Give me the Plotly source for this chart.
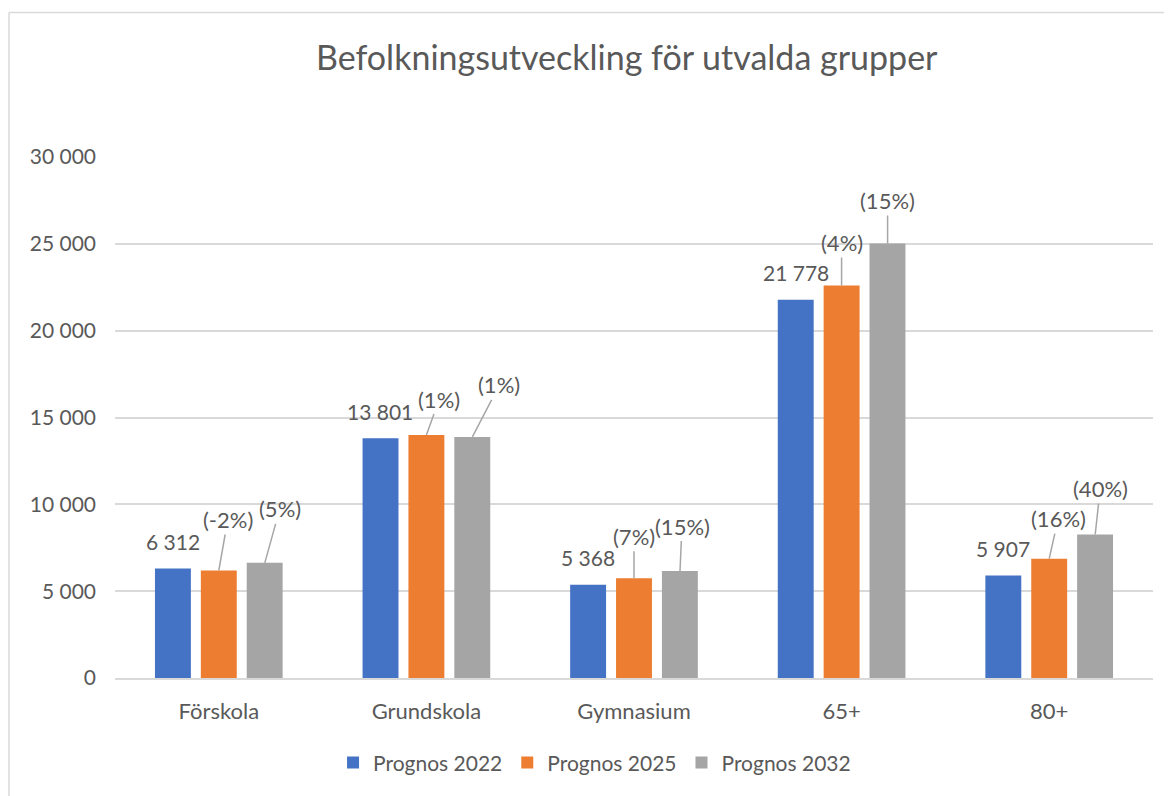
import plotly.graph_objects as go

# Data
kategorier = ['Förskola', 'Grundskola', 'Gymnasium', '65+', '80+']
serier = ['Prognos 2022', 'Prognos 2025', 'Prognos 2032']
prognos_2022 = [6312, 13801, 5368, 21778, 5907]
prognos_2025 = [6190, 13990, 5740, 22600, 6870]
prognos_2032 = [6630, 13880, 6160, 25020, 8265]
procent_2025 = ['(-2%)', '(1%)', '(7%)', '(4%)', '(16%)']
procent_2032 = ['(5%)', '(1%)', '(15%)', '(15%)', '(40%)']

farger = ['#4472C4', '#ED7D31', '#A5A5A5']
textfarg = '#595959'
font = 'Lato'

# Placering av etiketterna (pixlar fran stapelns topp), som i originalet
offset_2025 = [(9, -51), (13, -36), (0, -42), (0, -43), (9, -40)]
offset_2032 = [(15, -54), (27, -52), (2, -45), (0, -43), (5, -46)]
slot = 46  # avstand mellan staplarnas mittpunkter i en grupp

fig = go.Figure()
for namn, varden, farg in zip(serier, [prognos_2022, prognos_2025, prognos_2032], farger):
    fig.add_trace(go.Bar(x=kategorier, y=varden, name=namn, marker_color=farg,
                         marker_line_width=0, hoverinfo='x+y'))

annotations = []
# Värden för 2022
for kat, v in zip(kategorier, prognos_2022):
    annotations.append(dict(x=kat, y=v, xref='x', yref='y', text=f'{v:,}'.replace(',', ' '),
                            showarrow=False, xshift=-slot, yshift=27,
                            font=dict(family=font, size=21, color=textfarg)))
# Procentuell förändring med hänvisningslinjer
for procent, varden, offsets, dx in [(procent_2025, prognos_2025, offset_2025, 0),
                                      (procent_2032, prognos_2032, offset_2032, slot)]:
    for kat, v, txt, (ax, ay) in zip(kategorier, varden, procent, offsets):
        annotations.append(dict(x=kat, y=v, xref='x', yref='y', text=txt,
                                showarrow=True, arrowhead=0, arrowwidth=1.5,
                                arrowcolor='#A6A6A6', ax=ax, ay=ay, xshift=dx,
                                font=dict(family=font, size=22, color=textfarg)))

# sidan har 8 px marginal i body, darfor 1164x788
fig.update_layout(
    width=1164, height=788,
    margin=dict(l=107, r=19, t=149, b=116),
    paper_bgcolor='white', plot_bgcolor='white',
    separators=', ',
    title=dict(text='Befolkningsutveckling för utvalda grupper', xref='paper', x=0.493,
               xanchor='center', y=0.937, yanchor='middle',
               font=dict(family=font, size=34, color=textfarg)),
    barmode='group', bargap=0.337, bargroupgap=0.217,
    font=dict(family=font, size=21, color=textfarg),
    xaxis=dict(showgrid=False, showline=True, linecolor='#D9D9D9', linewidth=1.5,
               ticks='', ticklabelstandoff=13, tickfont=dict(size=22)),
    yaxis=dict(range=[0, 30000], dtick=5000, tickformat=',d', showgrid=True,
               gridcolor='#D9D9D9', gridwidth=1.5, zeroline=False, ticks='',
               ticklabelstandoff=18, tickfont=dict(size=21)),
    legend=dict(orientation='h', x=0.462, xanchor='center', y=-0.163, yanchor='middle',
                font=dict(size=21), itemwidth=30, traceorder='normal'),
    annotations=annotations,
    shapes=[
        dict(type='line', xref='paper', yref='paper', x0=-0.1021, x1=-0.1021, y0=1.2772, y1=-0.23,
             line=dict(color='#D9D9D9', width=1.5)),
        dict(type='line', xref='paper', yref='paper', x0=-0.1021, x1=1.02, y0=1.2772, y1=1.2772,
             line=dict(color='#D9D9D9', width=1.5)),
    ],
)

fig.write_html('out.html')
